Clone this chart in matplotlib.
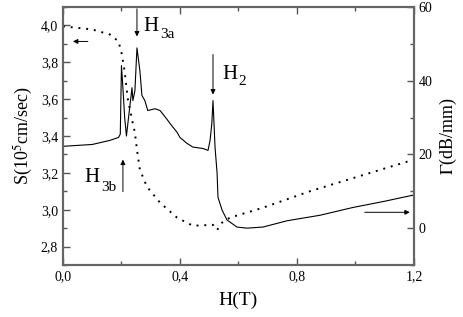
import matplotlib
matplotlib.use('Agg')
import matplotlib.pyplot as plt
from matplotlib.ticker import MultipleLocator, FuncFormatter

plt.rcParams['font.family'] = ['Liberation Serif', 'DejaVu Serif']
plt.rcParams['mathtext.fontset'] = 'stix'

# sound velocity S (left axis), dotted
h_s = [0.0, 0.10, 0.16, 0.19, 0.20, 0.21, 0.222, 0.236, 0.246, 0.253, 0.263,
       0.287, 0.332, 0.39, 0.444, 0.513, 0.527, 0.544, 0.571, 0.684, 0.844, 1.2]
s = [3.995, 3.978, 3.951, 3.913, 3.853, 3.76, 3.598, 3.489, 3.418, 3.326, 3.217,
     3.125, 3.038, 2.957, 2.913, 2.918, 2.89, 2.93, 2.957, 3.011, 3.10, 3.272]

# attenuation Gamma (right axis), solid
h_g = [0.0, 0.10, 0.16, 0.19, 0.196, 0.20, 0.205, 0.211, 0.217, 0.236, 0.239,
       0.246, 0.253, 0.263, 0.270, 0.280, 0.290, 0.315, 0.332, 0.356, 0.366,
       0.39, 0.40, 0.424, 0.444, 0.479, 0.496, 0.503, 0.509, 0.513, 0.520,
       0.527, 0.530, 0.544, 0.561, 0.595, 0.629, 0.684, 0.766, 0.879, 0.991,
       1.1, 1.2]
gam = [22.2, 22.7, 23.8, 24.6, 25.5, 44.1, 38.0, 30.0, 25.0, 38.1, 34.6,
       37.3, 48.9, 42.7, 36.0, 34.6, 31.9, 32.4, 31.9, 29.5, 28.4,
       26.0, 24.6, 23.0, 22.0, 21.6, 21.1, 23.8, 28.4, 34.6, 21.9,
       14.9, 8.4, 4.9, 2.2, 0.3, 0.0, 0.3, 2.0, 3.5, 5.6,
       7.3, 9.0]

fig = plt.figure(figsize=(4.63, 3.17), dpi=100)
ax = fig.add_axes([0.136, 0.164, 0.758, 0.814])
ax2 = ax.twinx()

ax.plot(h_s, s, color='k', lw=1.4, linestyle=(0, (1, 3)))
ax2.plot(h_g, gam, color='k', lw=0.8)

ax.set_xlim(0, 1.2)
ax.set_ylim(2.7, 4.1)
ax2.set_ylim(-10, 60)

comma = FuncFormatter(lambda v, p: ('%.1f' % v).replace('.', ','))
ax.xaxis.set_major_locator(MultipleLocator(0.4))
ax.xaxis.set_minor_locator(MultipleLocator(0.2))
ax.xaxis.set_major_formatter(comma)
ax.yaxis.set_major_locator(MultipleLocator(0.2))
ax.yaxis.set_minor_locator(MultipleLocator(0.1))
ax.yaxis.set_major_formatter(comma)
ax2.yaxis.set_major_locator(MultipleLocator(20))
ax2.yaxis.set_minor_locator(MultipleLocator(10))

for a in (ax, ax2):
    a.tick_params(which='both', direction='in', labelsize=10, color='#555555')
    a.tick_params(which='major', length=5, width=1)
    a.tick_params(which='minor', length=3, width=1)
    for sp in a.spines.values():
        sp.set_color('#666666')
        sp.set_linewidth(1.5)
ax.tick_params(which='both', top=True, right=False)
ax2.tick_params(which='both', left=False, right=True)

ax.set_xlabel('H(T)', fontsize=14, labelpad=6)
ax.set_ylabel(r'S(10$^5$cm/sec)', fontsize=13, labelpad=4)
ax2.set_ylabel(r'$\Gamma$(dB/mm)', fontsize=13, labelpad=4)

arr = dict(arrowstyle='-|>', lw=0.7, color='k', mutation_scale=7, shrinkA=0, shrinkB=0)
big = dict(fontsize=15, va='baseline')
sub = dict(fontsize=11, va='baseline')
# H3a
ax.annotate('', xy=(0.253, 3.94), xytext=(0.253, 4.09), arrowprops=arr)
ax.text(0.274, 3.967, 'H', **big)
ax.text(0.331, 3.930, '3a', **sub)
# H2
ax.annotate('', xy=(0.513, 3.625), xytext=(0.513, 3.842), arrowprops=arr)
ax.text(0.544, 3.707, 'H', **big)
ax.text(0.601, 3.675, '2', **sub)
# H3b
ax.annotate('', xy=(0.205, 3.272), xytext=(0.205, 3.098), arrowprops=arr)
ax.text(0.072, 3.152, 'H', **big)
ax.text(0.129, 3.104, '3b', **sub)
# axis indicators
ax.annotate('', xy=(0.034, 3.913), xytext=(0.085, 3.913), arrowprops=arr)
ax2.annotate('', xy=(1.186, 4.3), xytext=(1.032, 4.3), arrowprops=arr)

fig.savefig('out.png', dpi=100)
